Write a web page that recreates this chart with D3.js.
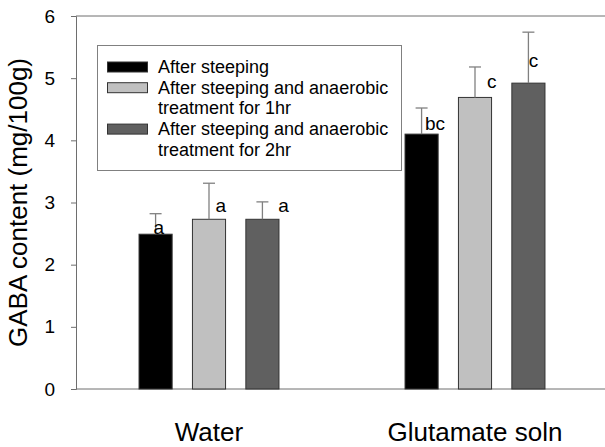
<!DOCTYPE html>
<html>
<head>
<meta charset="utf-8">
<script src="https://cdn.jsdelivr.net/npm/d3@7"></script>
<style>
	body { margin: 0; background: #fff; }
	text { font-family: "Liberation Sans", Arial, sans-serif; fill: #000; }
</style>
</head>
<body>
<svg id="chart"></svg>
<script>
// groups on the x axis
var groups = ["Water", "Glutamate soln"];

// treatments (legend entries, split into lines as in the figure)
var seriesKeys = ["s0", "s1", "s2"];
var seriesLabels = [
	["After steeping"],
	["After steeping and anaerobic", "treatment for 1hr"],
	["After steeping and anaerobic", "treatment for 2hr"]
];

// GABA content (mg/100g), one value per group
var afterSteeping = [2.49, 4.10];
var anaerobic1hr = [2.73, 4.69];
var anaerobic2hr = [2.73, 4.92];

// upper error (SD)
var errSteeping = [0.33, 0.42];
var err1hr = [0.58, 0.49];
var err2hr = [0.28, 0.82];

// significance letters
var lettersSteeping = ["a", "bc"];
var letters1hr = ["a", "c"];
var letters2hr = ["a", "c"];

// where each letter sits: value level and shift in bar widths
var letterLevel = [[2.50, 4.17], [2.85, 4.84], [2.85, 5.18]];
var letterShift = [[-0.06, 0.10], [0.20, 0.36], [0.48, 0.01]];

var yTicks = [0, 1, 2, 3, 4, 5, 6];

var width = 605, height = 447;
var margin = { top: 16, right: 0, bottom: 58, left: 76 };

var fills = ["#000000", "#c0c0c0", "#606060"];
var axisColor = "#6e6e6e";

var values = [afterSteeping, anaerobic1hr, anaerobic2hr];
var errs = [errSteeping, err1hr, err2hr];
var letters = [lettersSteeping, letters1hr, letters2hr];

var rows = [];
seriesKeys.forEach(function (k, i) {
	groups.forEach(function (g, j) {
		rows.push({
			group: g, key: k, si: i,
			value: values[i][j], err: errs[i][j],
			letter: letters[i][j], level: letterLevel[i][j], shift: letterShift[i][j]
		});
	});
});

var svg = d3.select("#chart")
	.attr("width", width)
	.attr("height", height);

var x0 = d3.scaleBand()
	.domain(groups)
	.range([margin.left, width + 3]);

var x1 = d3.scaleBand()
	.domain(seriesKeys)
	.range([0, x0.bandwidth()])
	.paddingInner(0.38)
	.paddingOuter(1.18);

var y = d3.scaleLinear()
	.domain([0, 6])
	.range([height - margin.bottom, margin.top]);

// top frame line
svg.append("line")
	.attr("x1", margin.left).attr("x2", width)
	.attr("y1", y(6)).attr("y2", y(6))
	.attr("stroke", axisColor);

// bottom axis line (no ticks)
svg.append("line")
	.attr("x1", margin.left).attr("x2", width)
	.attr("y1", y(0)).attr("y2", y(0))
	.attr("stroke", axisColor);

// y axis
var yAxis = svg.append("g")
	.attr("transform", "translate(" + margin.left + ",0)")
	.call(d3.axisLeft(y).tickValues(yTicks).tickFormat(d3.format("d")).tickSize(5).tickPadding(16));
yAxis.select(".domain").attr("stroke", axisColor);
yAxis.selectAll(".tick line").attr("stroke", axisColor);
yAxis.selectAll(".tick text")
	.style("font-size", "19px")
	.style("font-family", "'Liberation Sans', Arial, sans-serif")
	.attr("fill", "#000");

// y title
svg.append("text")
	.attr("transform", "translate(27," + ((y(0) + y(6)) / 2) + ") rotate(-90)")
	.style("text-anchor", "middle")
	.style("font-size", "26px")
	.text("GABA content (mg/100g)");

// group labels
svg.selectAll(".glabel")
	.data(groups)
	.enter().append("text")
	.attr("class", "glabel")
	.attr("x", function (d) { return x0(d) + x0.bandwidth() / 2; })
	.attr("y", 441)
	.style("text-anchor", "middle")
	.style("font-size", "26px")
	.text(function (d) { return d; });

function barX(d) { return x0(d.group) + x1(d.key); }
function barMid(d) { return barX(d) + x1.bandwidth() / 2; }

// bars
svg.append("g").selectAll("rect")
	.data(rows)
	.enter().append("rect")
	.attr("x", barX)
	.attr("y", function (d) { return y(d.value); })
	.attr("width", x1.bandwidth())
	.attr("height", function (d) { return y(0) - y(d.value); })
	.attr("fill", function (d) { return fills[d.si]; })
	.attr("stroke", "#333")
	.attr("stroke-width", 1);

// error bars (upper only)
var eb = svg.append("g").selectAll("g")
	.data(rows)
	.enter().append("g")
	.attr("stroke", "#808080")
	.attr("stroke-width", 1.3);
eb.append("line")
	.attr("x1", barMid).attr("x2", barMid)
	.attr("y1", function (d) { return y(d.value); })
	.attr("y2", function (d) { return y(d.value + d.err); });
eb.append("line")
	.attr("x1", function (d) { return barMid(d) - 6; })
	.attr("x2", function (d) { return barMid(d) + 6; })
	.attr("y1", function (d) { return y(d.value + d.err); })
	.attr("y2", function (d) { return y(d.value + d.err); });

// significance letters
svg.append("g").selectAll("text")
	.data(rows)
	.enter().append("text")
	.attr("x", function (d) { return barMid(d) + d.shift * x1.bandwidth(); })
	.attr("y", function (d) { return y(d.level); })
	.style("font-size", "19px")
	.text(function (d) { return d.letter; });

// legend
var legend = svg.append("g");
legend.append("rect")
	.attr("x", 97.5).attr("y", 45.5)
	.attr("width", 304).attr("height", 125)
	.attr("fill", "#fff")
	.attr("stroke", "#808080");

var lineH = 20.7, base = 73;
seriesLabels.forEach(function (lines, i) {
	legend.append("rect")
		.attr("x", 107.5).attr("y", base - 11)
		.attr("width", 40).attr("height", 10)
		.attr("fill", fills[i])
		.attr("stroke", "#333");
	lines.forEach(function (t, k) {
		legend.append("text")
			.attr("x", 158)
			.attr("y", base + k * lineH)
			.style("font-size", "18px")
			.text(t);
	});
	base += lines.length * lineH;
});
</script>
</body>
</html>
